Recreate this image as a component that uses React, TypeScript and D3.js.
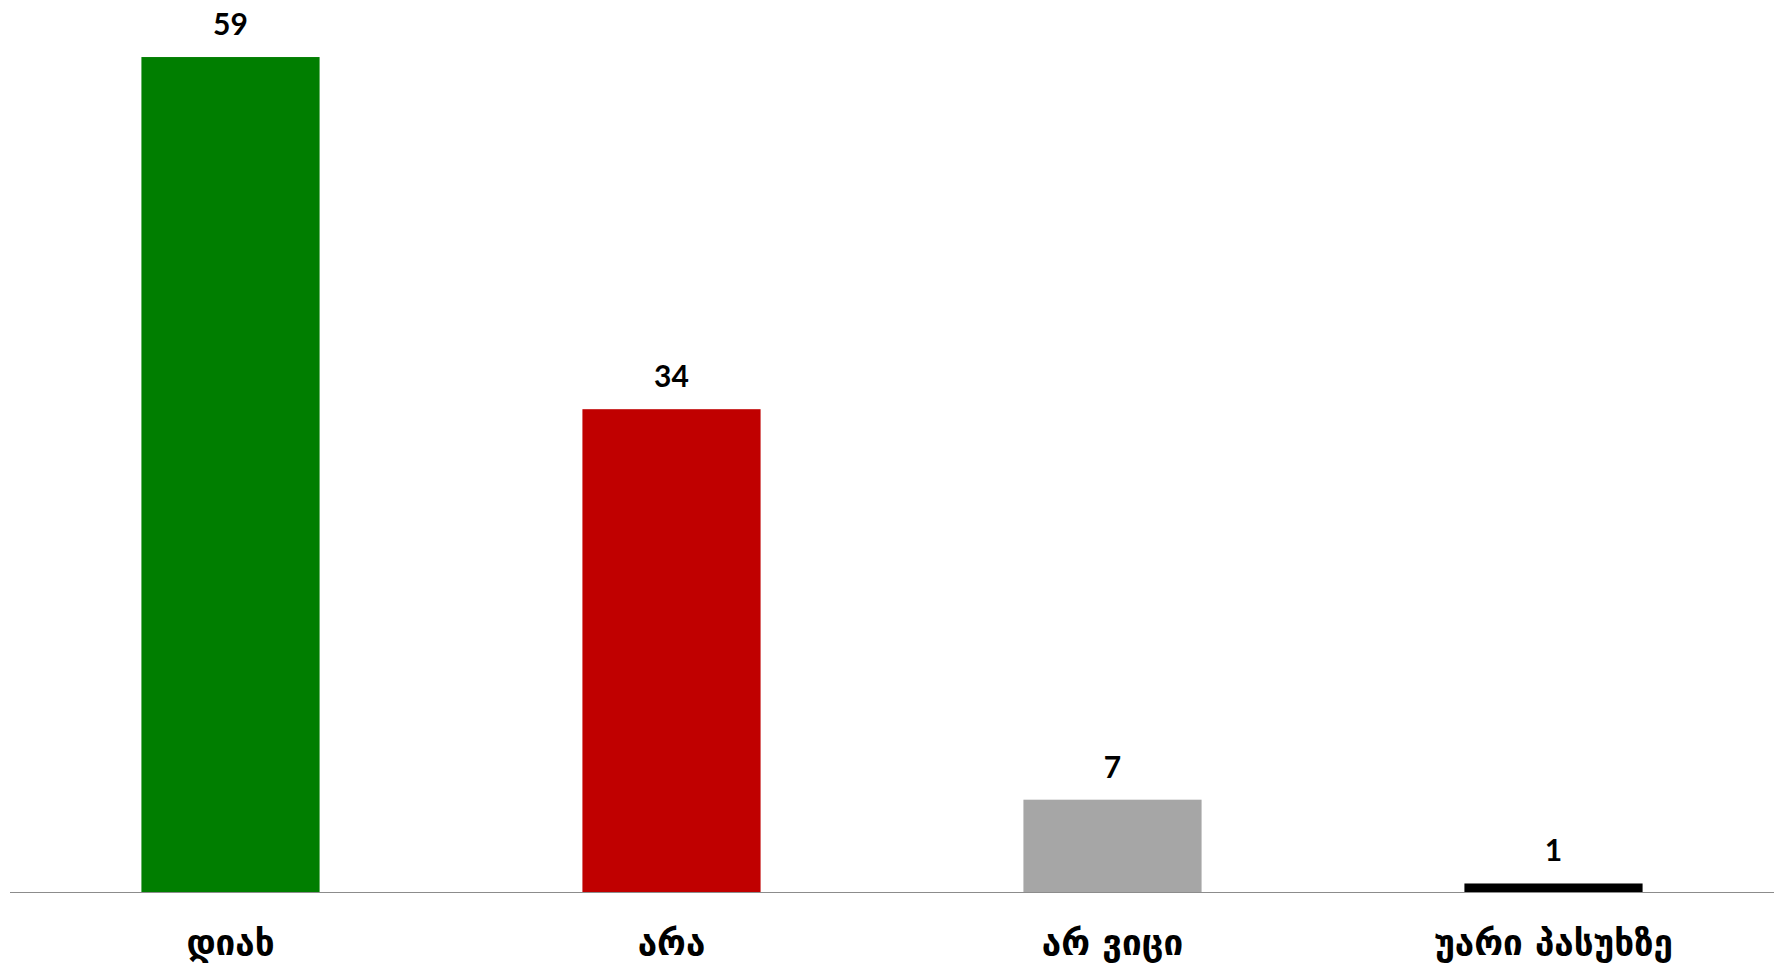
import React from "react";
import * as d3 from "d3";

const categories = ["დიახ", "არა", "არ ვიცი", "უარი პასუხზე"];
const values = [58.8, 34.0, 6.5, 0.6];
const labels = ["59", "34", "7", "1"];
const colors = ["#007E00", "#C00000", "#A6A6A6", "#000000"];

const W = 1783;
const H = 965;

export default function App() {
  const x = d3.scaleBand<string>().domain(categories).range([10, 1774]).paddingInner(0.596).paddingOuter(0.298);
  const y = d3.scaleLinear().domain([0, 60]).range([892, 40]);
  return (
    <svg width={W} height={H} style={{ position: "absolute", left: 0, top: 0, background: "#fff" }}>
      {categories.map((c, i) => (
        <g key={c}>
          <rect x={x(c)} y={y(values[i])} width={x.bandwidth()} height={y(0) - y(values[i])} fill={colors[i]} />
          <text x={(x(c) as number) + x.bandwidth() / 2} y={y(values[i]) - 22} textAnchor="middle"
            fontFamily="Lato, 'Open Sans', sans-serif" fontWeight="bold" fontSize={30} fill="#000">{labels[i]}</text>
          <text x={(x(c) as number) + x.bandwidth() / 2} y={955} textAnchor="middle"
            fontFamily="'DejaVu Sans', sans-serif" fontWeight="bold" fontSize={35} fill="#000">{c}</text>
        </g>
      ))}
      <line x1={10} x2={1774} y1={y(0) + 0.5} y2={y(0) + 0.5} stroke="#8C8C8C" strokeWidth={1} />
    </svg>
  );
}
